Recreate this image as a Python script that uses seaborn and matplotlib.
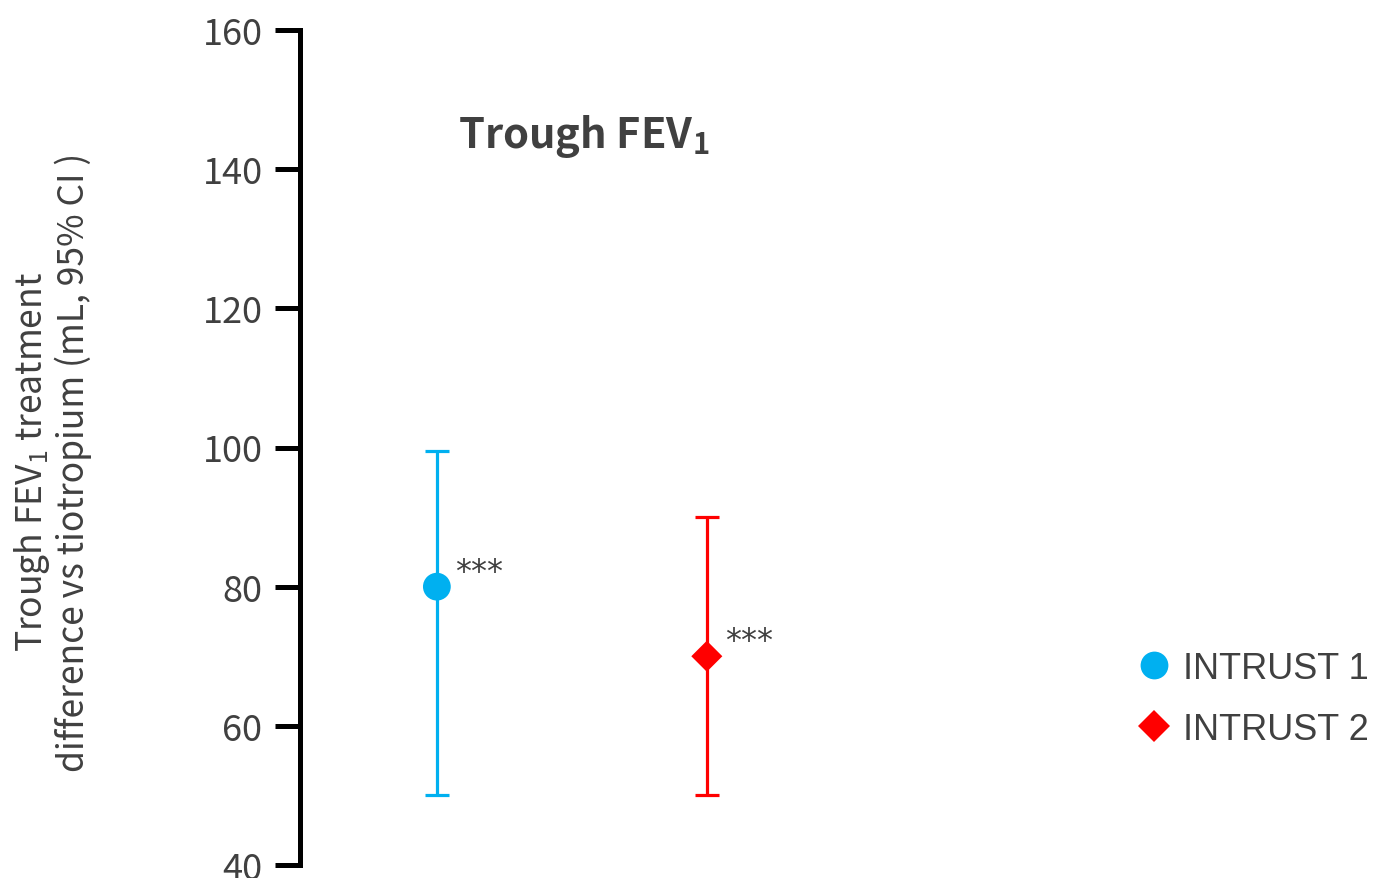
import matplotlib
matplotlib.use("Agg")
import matplotlib.pyplot as plt
import seaborn as sns
import pandas as pd

# Trough FEV1 treatment difference vs tiotropium (mL) with 95% CI
studies = ["INTRUST 1", "INTRUST 2"]
estimate = [80.0, 70.0]
ci_low = [50.0, 50.0]
ci_high = [99.5, 90.0]
significance = ["***", "***"]
y_ticks = [40, 60, 80, 100, 120, 140, 160]

colors = {"INTRUST 1": "#00B0F0", "INTRUST 2": "#FF0000"}
markers = {"INTRUST 1": "o", "INTRUST 2": "D"}
sizes = {"INTRUST 1": 400, "INTRUST 2": 250}
TEXT = "#404040"
FONT = "Noto Sans CJK KR"

sns.set_style("white")
plt.rcParams["font.family"] = [FONT, "DejaVu Sans"]
plt.rcParams["mathtext.fontset"] = "custom"
plt.rcParams["mathtext.rm"] = FONT
plt.rcParams["mathtext.bf"] = FONT + ":bold"

df = pd.DataFrame({
    "study": studies,
    "pos": list(range(len(studies))),
    "estimate": estimate,
    "low": ci_low,
    "high": ci_high,
})

W, H = 1379, 879
fig = plt.figure(figsize=(W / 100, H / 100), dpi=100)
ax = fig.add_axes([300 / W, 13 / H, (W - 300) / W, 835 / H])

# confidence intervals
for _, r in df.iterrows():
    ax.errorbar(r["pos"], r["estimate"],
                yerr=[[r["estimate"] - r["low"]], [r["high"] - r["estimate"]]],
                fmt="none", ecolor=colors[r["study"]], elinewidth=2.3,
                capsize=8.5, capthick=2.3, zorder=2)

# point estimates
sns.scatterplot(data=df, x="pos", y="estimate", hue="study", style="study",
                size="study", palette=colors, markers=markers, sizes=sizes,
                linewidth=0, zorder=3, ax=ax)

# significance stars
for _, r in df.iterrows():
    ax.annotate(significance[int(r["pos"])], xy=(r["pos"], r["estimate"]),
                xytext=(13, 11), textcoords="offset points",
                ha="left", va="center", fontsize=23, color=TEXT,
                family=["DejaVu Sans"])

ax.set_xlim(-0.507, 3.49)
ax.set_ylim(40, 160)
ax.set_yticks(y_ticks)
ax.set_xticks([])
ax.set_xlabel("")
ax.set_ylabel("")
for s in ["top", "right", "bottom"]:
    ax.spines[s].set_visible(False)
ax.spines["left"].set_linewidth(3.6)
ax.spines["left"].set_color("black")
ax.tick_params(axis="y", left=True, length=18, width=3.6, pad=9,
               labelsize=26, labelcolor=TEXT, color="black")

handles, labels = ax.get_legend_handles_labels()
ax.legend(handles, labels, loc="center left",
          bbox_to_anchor=(1136 / W, 1 - 700 / H), bbox_transform=fig.transFigure,
          frameon=False, prop={"family": "Liberation Sans", "size": 26},
          labelcolor=TEXT, handletextpad=0.3, labelspacing=0.72,
          handlelength=1.0, borderaxespad=0, borderpad=0)

fig.text(458 / W, 1 - 148 / H, r"Trough FEV$_\mathbf{1}$", fontsize=30,
         fontweight="bold", color=TEXT, va="baseline", ha="left")

fig.text(52 / W, 1 - 462 / H,
         "Trough FEV$_1$ treatment\ndifference vs tiotropium (mL, 95% CI )",
         rotation=90, ha="center", va="center", multialignment="center",
         fontsize=25.5, color=TEXT, linespacing=1.12)

fig.savefig("out.png", dpi=100, facecolor="white")
